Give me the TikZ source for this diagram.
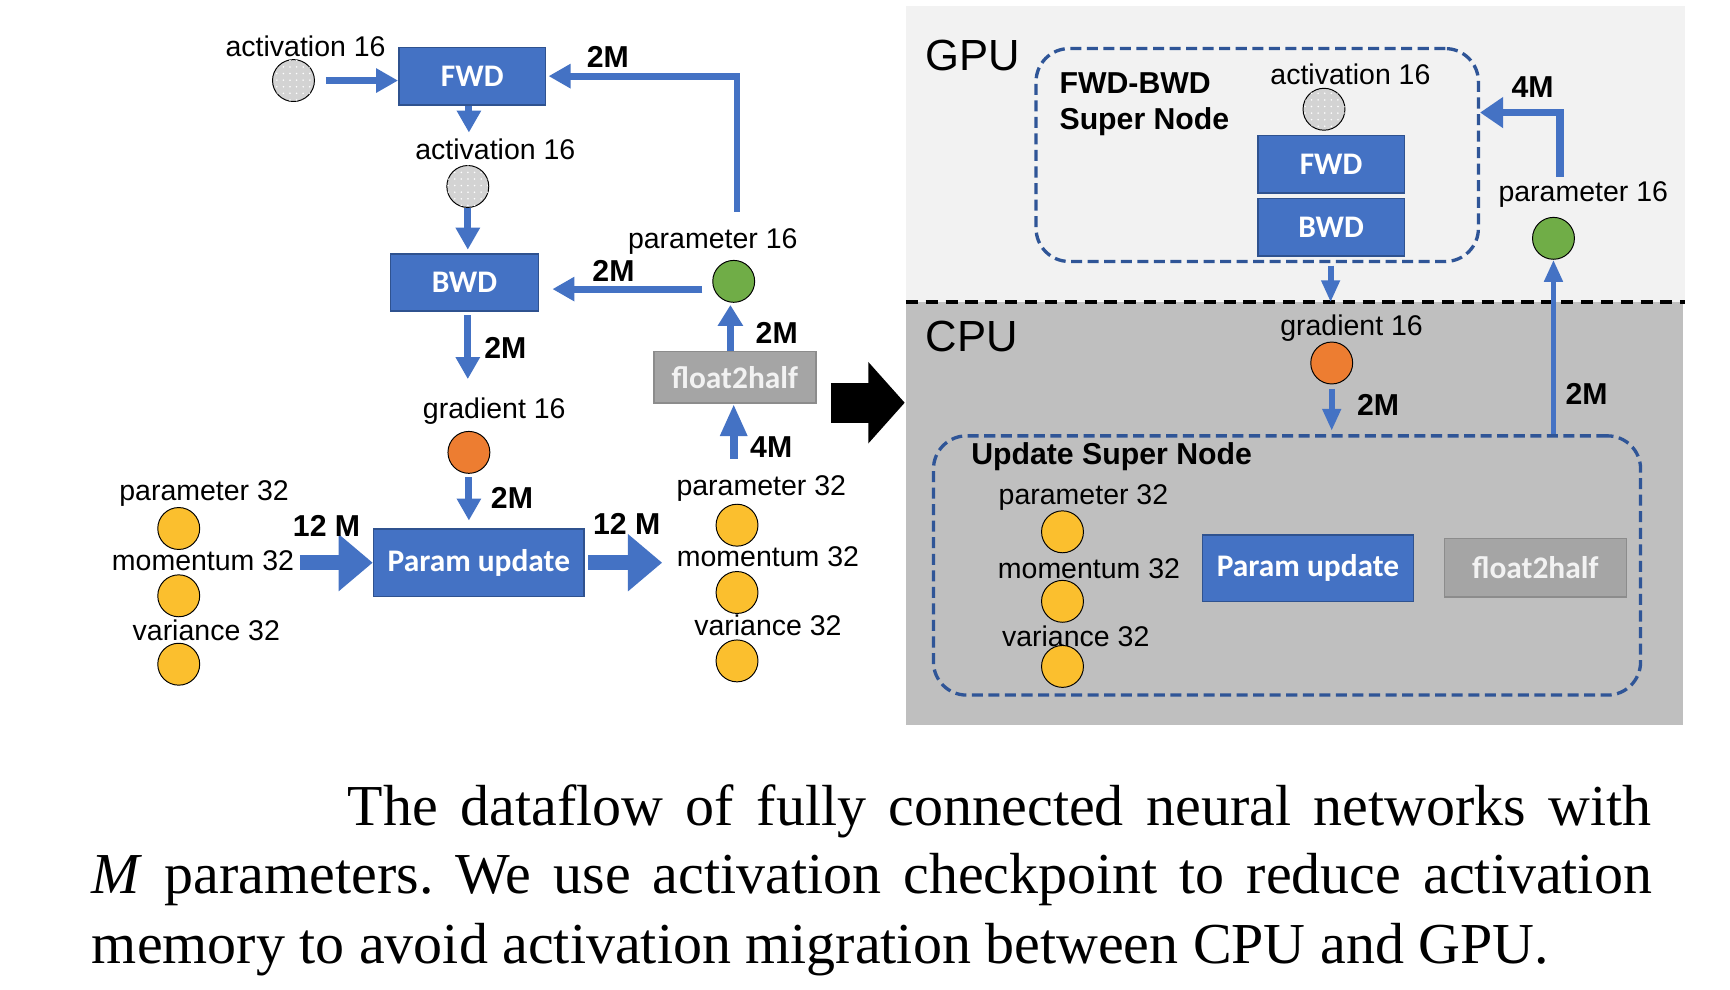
\documentclass[tikz,border=0pt]{standalone}
\usepackage{fontspec}
\setmainfont{Liberation Serif}
\newfontfamily\arialf{Liberation Sans}
\newfontfamily\calibf{Carlito}
\usetikzlibrary{arrows.meta,patterns}
\pgfdeclarepatternformonly{sparsedots}{\pgfqpoint{-1pt}{-1pt}}{\pgfqpoint{3pt}{3pt}}{\pgfqpoint{3.4pt}{3.4pt}}%
  {\pgfpathcircle{\pgfqpoint{0pt}{0pt}}{0.45pt}\pgfusepath{fill}}
\definecolor{boxblue}{HTML}{4472C4}
\definecolor{boxedge}{HTML}{2F528F}
\definecolor{arrblue}{HTML}{4472C4}
\definecolor{dashblue}{HTML}{2F5597}
\definecolor{gpubg}{HTML}{F2F2F2}
\definecolor{cpubg}{HTML}{BFBFBF}
\definecolor{fhgray}{HTML}{A5A5A5}
\definecolor{fhedge}{HTML}{8C8C8C}
\definecolor{yel}{HTML}{FBBF2E}
\definecolor{ora}{HTML}{ED7D31}
\definecolor{grn}{HTML}{70AD47}
\definecolor{actgray}{HTML}{D3D3D3}
\begin{document}
\begin{tikzpicture}[x=0.02cm,y=-0.02cm,
  lbl/.style={font=\arialf\fontsize{14.7}{16}\selectfont, inner sep=0pt},
  blbl/.style={font=\arialf\bfseries\fontsize{15.6}{17}\selectfont, inner sep=0pt},
  biglbl/.style={font=\arialf\fontsize{22.5}{24}\selectfont, inner sep=0pt},
  bub/.style={circle, draw=black, line width=0.5pt, minimum size=0.76cm, inner sep=0pt},
  actc/.style={bub, fill=actgray, postaction={pattern=sparsedots, pattern color=white}},
  yelc/.style={bub, fill=yel},
  orac/.style={bub, fill=ora},
  grnc/.style={bub, fill=grn},
  opbox/.style={draw=boxedge, line width=0.8pt, fill=boxblue, text=white,
     font=\calibf\bfseries\fontsize{16.2}{18}\selectfont, inner sep=0pt},
  fhbox/.style={draw=fhedge, line width=0.8pt, fill=fhgray, text=gpubg,
     font=\calibf\bfseries\fontsize{16.2}{18}\selectfont, inner sep=0pt},
  tarr/.style={draw=arrblue, line width=0.125cm, -{Triangle[width=0.42cm,length=0.4cm]}},
  sarr/.style={draw=arrblue, line width=0.105cm, -{Triangle[width=0.32cm,length=0.4cm]}},
  marr/.style={draw=arrblue, line width=0.14cm, -{Triangle[width=0.46cm,length=0.58cm]}},
  bigarr/.style={draw=arrblue, line width=0.272cm, -{Triangle[width=1.0cm,length=0.62cm]}},
  blkarr/.style={draw=black, line width=0.72cm, -{Triangle[width=1.44cm,length=0.66cm]}},
  dashbox/.style={draw=dashblue, line width=0.06cm, dash pattern=on 0.2cm off 0.1cm, rounded corners=0.6cm, inner sep=0pt},
  capf/.style={font=\frenchspacing\fontsize{29.9}{36}\selectfont, inner sep=0pt}
]
\useasboundingbox (0,0) rectangle (1568,897);
\fill[white] (0,0) rectangle (1568,897);

% ---------------- left panel ----------------
\node[lbl] (a1l) at (277,42) {activation 16};
\node[actc] (a1) at (266,73) {};
\node[opbox, minimum width=2.66cm, minimum height=1.04cm] (fwd) at (428,69) {FWD};
\node[lbl] (a2l) at (449,135) {activation 16};
\node[actc] (a2) at (424,169) {};
\node[opbox, minimum width=2.68cm, minimum height=1.04cm] (bwd) at (421,256) {BWD};
\node[lbl] (gl) at (448,373) {gradient 16};
\node[orac] (g) at (425,410) {};
\node[opbox, minimum width=3.82cm, minimum height=1.22cm] (pu) at (434,510) {Param update};

\node[lbl] (p32al) at (185,447) {parameter 32};
\node[yelc] (p32a) at (162,479) {};
\node[lbl] (m32al) at (184,508) {momentum 32};
\node[yelc] (m32a) at (162,540) {};
\node[lbl] (v32al) at (187,571) {variance 32};
\node[yelc] (v32a) at (162,602) {};

\node[lbl] (p32bl) at (690,443) {parameter 32};
\node[yelc] (p32b) at (668,476) {};
\node[lbl] (m32bl) at (696,505) {momentum 32};
\node[yelc] (m32b) at (668,537) {};
\node[lbl] (v32bl) at (696,567) {variance 32};
\node[yelc] (v32b) at (668,599) {};

\node[fhbox, minimum width=2.94cm, minimum height=0.94cm] (f2h) at (666,342) {float2half};
\node[lbl] (p16l) at (646,219) {parameter 16};
\node[grnc] (p16) at (665,255) {};
\coordinate (p16top) at (668,192);

\draw[tarr, shorten <=0.2cm] (a1.east) -- (a1.east -| fwd.west);
\draw[tarr] ([xshift=-0.06cm]fwd.south) -- ([xshift=-0.06cm,yshift=0.1cm]fwd.south |- a2l.north);
\draw[tarr, shorten >=0.06cm] (a2.south) -- (a2.south |- bwd.north);
\draw[tarr, shorten <=0.06cm] (a2.south |- bwd.south) -- ([yshift=0.34cm]a2.south |- gl.north);
\node[blbl] at (458,315) {2M};
\draw[tarr, shorten <=0.06cm, shorten >=0.14cm] (g.south) -- (g.south |- pu.north);
\node[blbl] at (464,451) {2M};
\draw[bigarr, shorten <=0.1cm] (m32al.east |- pu.west) -- (pu.west);
\node[blbl] at (296,477) {12 M};
\draw[bigarr, shorten <=0.06cm, shorten >=0.26cm] (pu.east) -- (pu.east -| m32bl.west);
\node[blbl] at (568,475) {12 M};
\draw[marr, shorten <=0.3cm] ([xshift=-0.06cm]p32b.north |- p32bl.north) -- ([xshift=-0.06cm]p32b.north |- f2h.south);
\node[blbl] at (699,405) {4M};
\draw[marr, line width=0.12cm, -{Triangle[width=0.44cm,length=0.38cm]}, shorten >=0.04cm] ([xshift=-0.06cm]p16.south |- f2h.north) -- ([xshift=-0.06cm]p16.south);
\node[blbl] at (704,302) {2M};
\draw[tarr, shorten <=0.18cm, shorten >=0.24cm] ([yshift=-0.14cm]p16.west) -- ([yshift=-0.14cm]p16.west -| bwd.east);
\node[blbl] at (556,246) {2M};
\draw[tarr, shorten >=0.04cm] (p16top) |- (fwd.east);
\node[blbl] at (551,52) {2M};

% big black arrow
\coordinate (bigs) at (753,365);
\coordinate (bige) at (820,365);
\draw[blkarr] (bigs) -- (bige);

% ---------------- right panel ----------------
\fill[gpubg] (821,5) rectangle (1527,274);
\fill[cpubg] (821,274) rectangle (1525,657);
\draw[black, line width=0.07cm, dash pattern=on 0.22cm off 0.14cm] (821,274) -- (1527,274);
\coordinate (gcline) at (1206,274);
\node[biglbl] at (882,50) {GPU};
\node[biglbl] at (881,305) {CPU};

\node[dashbox, minimum width=8.02cm, minimum height=3.86cm] (fbsn) at (1139.5,140.5) {};
\node[blbl, anchor=west] at (960,75) {FWD-BWD};
\node[blbl, anchor=west] at (960,110) {Super Node};
\node[lbl] (a3l) at (1224,67) {activation 16};
\node[actc] (a3) at (1200,99) {};
\node[opbox, minimum width=2.66cm, minimum height=1.04cm] (fwdr) at (1206.5,149) {FWD};
\node[opbox, minimum width=2.66cm, minimum height=1.04cm] (bwdr) at (1206.5,206) {BWD};

\node[lbl] (grl) at (1225,297) {gradient 16};
\node[orac] (gr) at (1207,329) {};

\node[dashbox, minimum width=12.82cm, minimum height=4.7cm] (usn) at (1166.5,512.5) {};
\node[blbl, anchor=west] at (880,414) {Update Super Node};
\node[lbl] (p32cl) at (982,451) {parameter 32};
\node[yelc] (p32c) at (963,482) {};
\node[lbl] (m32cl) at (987,515) {momentum 32};
\node[yelc] (m32c) at (963,545) {};
\node[lbl] (v32cl) at (975,577) {variance 32};
\node[yelc] (v32c) at (963,604) {};
\node[opbox, minimum width=3.82cm, minimum height=1.2cm] (pur) at (1185.5,515) {Param update};
\node[fhbox, minimum width=3.3cm, minimum height=1.06cm] (f2hr) at (1391.5,514.5) {float2half};

\node[lbl] (p16rl) at (1435,176) {parameter 16};
\node[grnc] (p16r) at (1408,216) {};
\coordinate (p16rtop) at (1414,160);

\draw[sarr, shorten <=0.16cm] (bwdr.south -| gcline) -- (gcline);
\draw[sarr, shorten <=0.08cm, shorten >=0.06cm] (gr.south) -- (gr.south |- usn.north);
\node[blbl] at (1249,367) {2M};
\draw[sarr] (usn.north -| p16r.south) -- (p16r.south);
\node[blbl] at (1438,357) {2M};
\draw[marr, line width=0.14cm, -{Triangle[width=0.54cm,length=0.42cm]}] (p16rtop) |- ([yshift=0.77cm]fbsn.east);
\node[blbl] at (1389,79) {4M};

% ---------------- caption ----------------
\node[capf, anchor=base west] (cap1) at (315,748)
  {\makebox[23.64cm][s]{The dataflow of fully connected neural networks with}};
\node[capf, anchor=base west] (cap2) at (83,810)
  {\makebox[28.28cm][s]{\textit{M} parameters. We use activation checkpoint to reduce activation}};
\node[capf, anchor=base west] (cap3) at (83,873)
  {memory to avoid activation migration between CPU and GPU.};
\end{tikzpicture}
\end{document}
